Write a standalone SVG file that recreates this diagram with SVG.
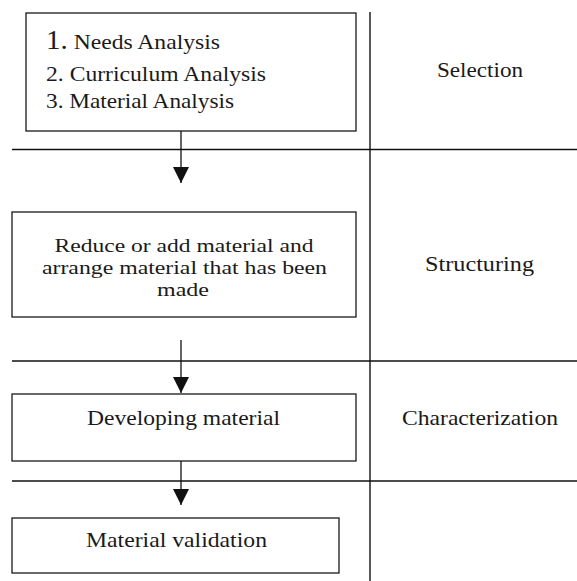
<svg xmlns="http://www.w3.org/2000/svg" width="577" height="581" viewBox="0 0 577 581">
<style>
.box{fill:#fff;stroke:#1a1a1a;stroke-width:1.3}
.grid{stroke:#111;stroke-width:1.4;fill:none}
.conn{stroke:#111;stroke-width:1.3;fill:none}
text{font-family:'Liberation Serif',serif;font-size:22px;fill:#1a1a1a}
.c{text-anchor:middle}
.m{font-size:19px}
</style>
<defs>
<marker id="ah" viewBox="0 0 16 16" refX="16" refY="8" markerWidth="16" markerHeight="16" markerUnits="userSpaceOnUse" orient="auto">
<path d="M0,0 L16,8 L0,16 z" fill="#111"/>
</marker>
</defs>
<g id="grid">
<line class="grid" x1="370" y1="12" x2="370" y2="581"/>
<line class="grid" x1="12" y1="149.5" x2="577" y2="149.5"/>
<line class="grid" x1="12" y1="361" x2="577" y2="361"/>
<line class="grid" x1="12" y1="481" x2="577" y2="481"/>
</g>
<g id="labels">
<text id="selection" class="c" x="480" y="77" textLength="86" lengthAdjust="spacingAndGlyphs">Selection</text>
<text id="structuring" class="c" x="479.5" y="271" textLength="109" lengthAdjust="spacingAndGlyphs">Structuring</text>
<text id="characterization" class="c" x="480" y="425" textLength="156" lengthAdjust="spacingAndGlyphs">Characterization</text>
</g>
<g id="n1">
<rect class="box" x="26" y="13" width="330" height="118"/>
<text x="46" y="49" textLength="174" lengthAdjust="spacingAndGlyphs"><tspan font-size="27">1.</tspan> Needs Analysis</text>
<text x="46" y="81" textLength="220" lengthAdjust="spacingAndGlyphs">2. Curriculum Analysis</text>
<text x="46" y="108" textLength="188" lengthAdjust="spacingAndGlyphs">3. Material Analysis</text>
</g>
<g id="n2">
<rect class="box" x="12" y="212" width="344" height="105"/>
<text class="c m" x="184" y="252" textLength="259" lengthAdjust="spacingAndGlyphs">Reduce or add material and</text>
<text class="c m" x="184.5" y="274" textLength="285" lengthAdjust="spacingAndGlyphs">arrange material that has been</text>
<text class="c m" x="183" y="296" textLength="52" lengthAdjust="spacingAndGlyphs">made</text>
</g>
<g id="n3">
<rect class="box" x="12" y="394" width="344" height="67"/>
<text class="c" x="183.5" y="425" textLength="193" lengthAdjust="spacingAndGlyphs">Developing material</text>
</g>
<g id="n4">
<rect class="box" x="12" y="518" width="327" height="55"/>
<text class="c" x="176.5" y="547" textLength="181" lengthAdjust="spacingAndGlyphs">Material validation</text>
</g>
<g id="connectors">
<line class="conn" x1="181" y1="131" x2="181" y2="183" marker-end="url(#ah)"/>
<line class="conn" x1="181" y1="340" x2="181" y2="393" marker-end="url(#ah)"/>
<line class="conn" x1="181" y1="461" x2="181" y2="505" marker-end="url(#ah)"/>
</g>
</svg>
